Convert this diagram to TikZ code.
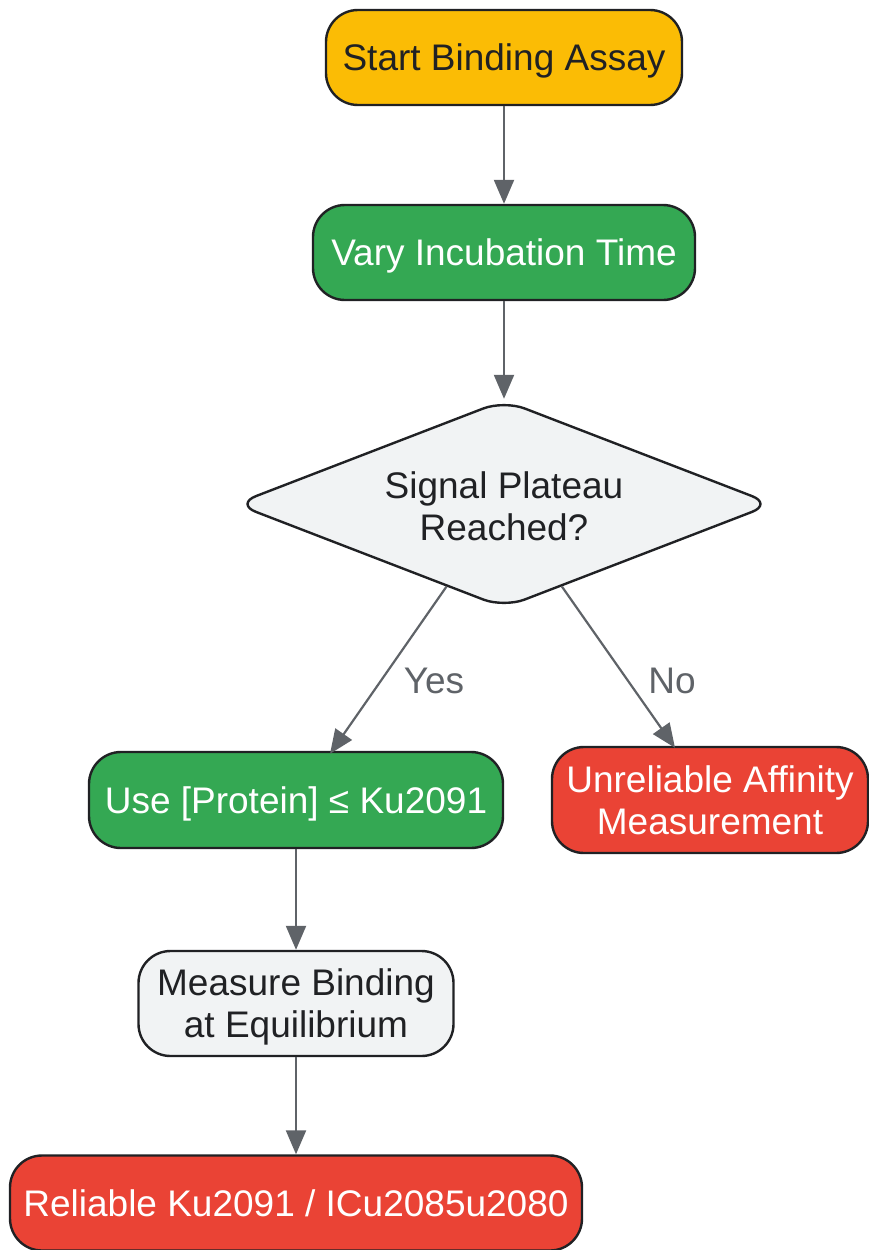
\documentclass[tikz,border=0pt]{standalone}
\usepackage{fontspec}
\setmainfont{Liberation Sans}
\usetikzlibrary{shapes.geometric,arrows.meta,calc}
\definecolor{cyellow}{HTML}{FBBC05}
\definecolor{cgreen}{HTML}{34A853}
\definecolor{cred}{HTML}{EA4335}
\definecolor{cgray}{HTML}{F1F3F4}
\definecolor{cborder}{HTML}{202124}
\definecolor{carrow}{HTML}{5F6368}
\tikzset{
  box/.style={draw=cborder, line width=2.4pt, rounded corners=32pt, inner sep=0pt, align=center,
    text depth=-5pt, font=\fontsize{37}{42}\selectfont},
  yellowbox/.style={box, fill=cyellow, text=cborder},
  greenbox/.style={box, fill=cgreen, text=white},
  redbox/.style={box, fill=cred, text=white},
  graybox/.style={box, fill=cgray, text=cborder},
  arr/.style={draw=carrow, line width=2.2pt, -{Triangle[length=24pt,width=20pt]}},
  lbl/.style={text=carrow, font=\fontsize{37}{42}\selectfont, inner sep=0pt}
}
\begin{document}
\begin{tikzpicture}[x=1pt,y=-1pt]
\useasboundingbox (0,0) rectangle (868,1250);
\node[yellowbox, minimum width=356pt, minimum height=95pt] (start) at (504,57.5) {Start Binding Assay};
\node[greenbox, minimum width=382pt, minimum height=95pt] (vary) at (504,252.5) {Vary Incubation Time};
\node[diamond, draw=cborder, fill=cgray, line width=2.4pt, rounded corners=22pt, inner sep=0pt,
  minimum width=538pt, minimum height=208pt] (dec) at (504,504) {};
\node[align=center, text=cborder, font=\fontsize{37}{42}\selectfont, inner sep=0pt] (dectext) at (504,506) {Signal Plateau\\Reached?};
\node[greenbox, minimum width=414pt, minimum height=96pt] (use) at (296,800) {Use [Protein] ≤ Ku2091};
\node[redbox, minimum width=316pt, minimum height=106pt] (unrel) at (710,800) {Unreliable Affinity\\Measurement};
\node[graybox, minimum width=315pt, minimum height=105pt] (meas) at (296,1003.5) {Measure Binding\\at Equilibrium};
\node[redbox, minimum width=572pt, minimum height=95pt] (rel) at (296,1203) {Reliable Ku2091 / ICu2085u2080};
\draw[arr] (start) -- (vary);
\draw[arr] (vary) -- (dec.north);
\draw[arr] (dec) -- ([xshift=34pt,yshift=-3pt]use.north);
\draw[arr] (dec) -- ([xshift=-35pt,yshift=-2pt]unrel.north);
\draw[arr] (use) -- (meas);
\draw[arr] (meas) -- (rel);
\node[lbl] (yes) at (434,681) {Yes};
\node[lbl] (no) at (672,681) {No};
\end{tikzpicture}
\end{document}
